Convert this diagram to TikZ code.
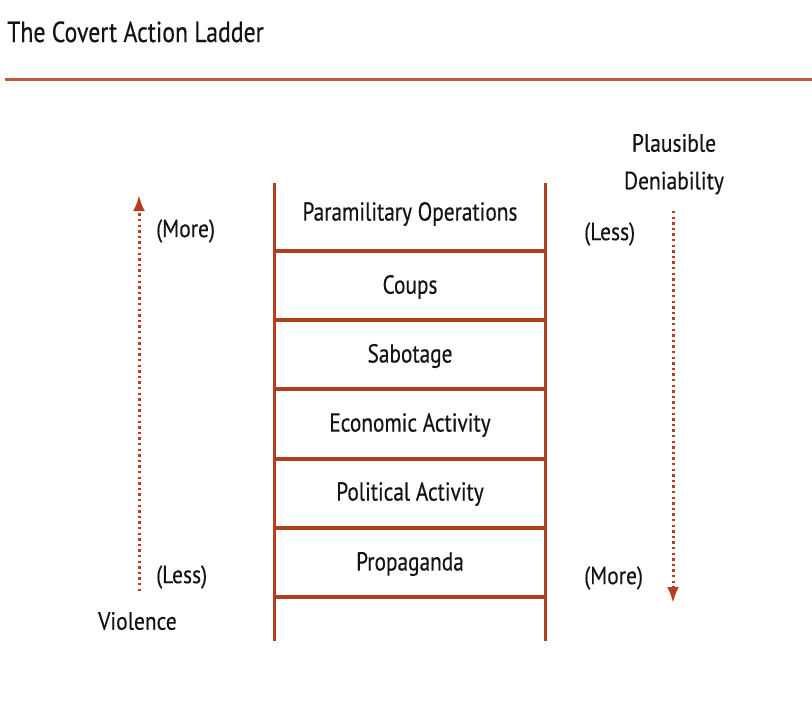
\documentclass[tikz,border=0pt]{standalone}
\usepackage{fontspec}
\setmainfont{PT Sans}
\newfontfamily\condA[FakeStretch=0.82,FakeBold=0.4]{PT Sans}
\newfontfamily\condB[FakeStretch=0.86,FakeBold=0.4]{PT Sans}
\usetikzlibrary{arrows.meta}
\definecolor{rust}{RGB}{180,62,32}
\definecolor{txt}{RGB}{20,20,20}
\tikzset{
  rail/.style={draw=rust, line width=3pt},
  rung/.style={draw=rust, line width=3.2pt},
  steptext/.style={text=txt, font=\condA\fontsize{26}{30}\selectfont, anchor=center, inner sep=0pt},
  sidetext/.style={text=txt, font=\condB\fontsize{25}{30}\selectfont, inner sep=0pt},
  dotarrow/.style={draw=rust, line width=3pt, dash pattern=on 2.4pt off 3.2pt, -{Latex[length=16pt,width=12pt]}},
}
\begin{document}
\begin{tikzpicture}[x=1pt,y=-1pt]
\useasboundingbox (0,0) rectangle (812,702);
% title
\node[anchor=base west, text=txt, font=\condA\fontsize{29}{32}\selectfont, inner sep=0pt] (title) at (7,42) {The Covert Action Ladder};
\coordinate (hl) at (5,79);
\coordinate (hr) at (812,79);
\draw[draw=rust!85, line width=3pt] (hl) -- (hr);
% rails
\coordinate (lt) at (274,183);
\coordinate (lb) at (274,641);
\coordinate (rt) at (545,183);
\coordinate (rb) at (545,641);
\draw[rail] (lt) -- (lb);
\draw[rail] (rt) -- (rb);
% rungs
\foreach \y/\n in {251/a,320/b,389/c,459/d,528/e,597/f}{
  \coordinate (rl\n) at (274,\y);
  \coordinate (rr\n) at (545,\y);
  \draw[rung] (rl\n) -- (rr\n);
}
% step labels
\node[steptext] (s1) at (410,214) {Paramilitary Operations};
\node[steptext] (s2) at (410,287) {Coups};
\node[steptext] (s3) at (410,356) {Sabotage};
\node[steptext] (s4) at (410,425) {Economic Activity};
\node[steptext] (s5) at (410,494) {Political Activity};
\node[steptext] (s6) at (410,564) {Propaganda};
% left side
\coordinate (va) at (139,591);
\coordinate (vb) at (139,195);
\draw[dotarrow] (va) -- (vb);
\node[sidetext, anchor=west] (lmore) at (156,231) {(More)};
\node[sidetext, anchor=west] (lless) at (156,577) {(Less)};
\node[sidetext, anchor=west] (viol) at (98,621) {Violence};
% right side
\node[sidetext, anchor=center] (pl1) at (674,143) {Plausible};
\node[sidetext, anchor=center] (pl2) at (674,183) {Deniability};
\coordinate (da) at (673,211);
\coordinate (db) at (673,603);
\draw[dotarrow] (da) -- (db);
\node[sidetext, anchor=west] (rless) at (584,234) {(Less)};
\node[sidetext, anchor=west] (rmore) at (584,578) {(More)};
\end{tikzpicture}
\end{document}
